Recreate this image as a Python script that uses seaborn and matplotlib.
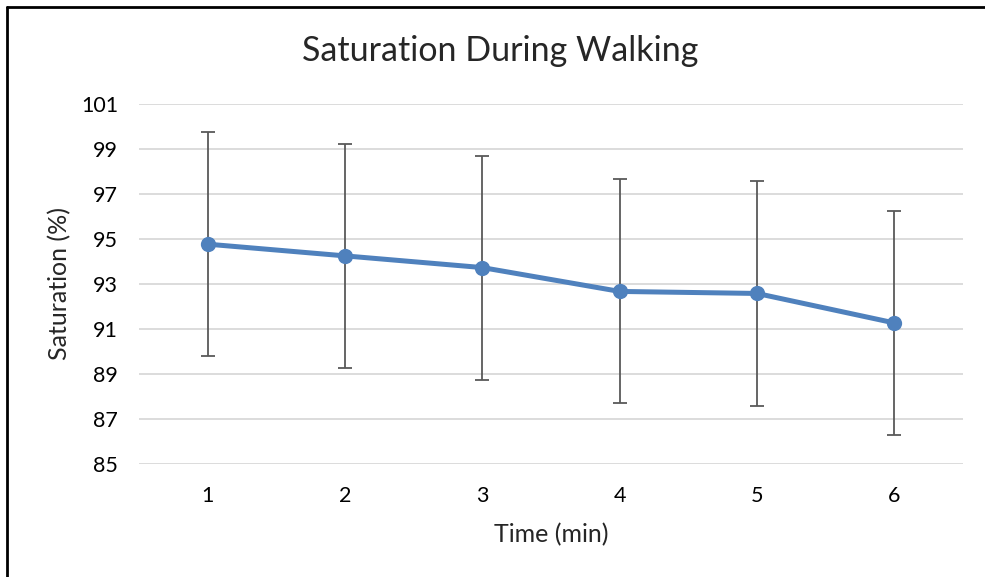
import seaborn as sns
import matplotlib.pyplot as plt
import pandas as pd
from matplotlib.lines import Line2D

time_min = [1, 2, 3, 4, 5, 6]
saturation = [94.77, 94.25, 93.73, 92.67, 92.58, 91.27]
sat_sd = [4.98, 4.98, 4.98, 4.98, 4.98, 4.98]
y_ticks = [85, 87, 89, 91, 93, 95, 97, 99, 101]

def main():
    sns.set_style("white")
    plt.rcParams['font.family'] = ['Lato', 'DejaVu Sans']

    data = pd.DataFrame({'time': time_min, 'sat': saturation, 'sd': sat_sd})

    fig = plt.figure(figsize=(9.85, 5.77), dpi=100)
    ax = fig.add_axes([139 / 985, 1 - 464 / 577, 824 / 985, 360 / 577])

    ax.errorbar(data['time'], data['sat'], yerr=data['sd'], fmt='none',
                ecolor='#595959', elinewidth=1.3, capsize=5, capthick=1.3, zorder=2)
    sns.lineplot(data=data, x='time', y='sat', ax=ax, color='#4F81BD',
                 linewidth=3.6, marker='o', markersize=11, markeredgewidth=0, zorder=3)

    ax.set_xlim(0.5, 6.5)
    ax.set_ylim(85, 101)
    ax.set_xticks(time_min)
    ax.set_yticks(y_ticks)
    ax.yaxis.grid(True, color='#D9D9D9', linewidth=1.3)
    ax.set_axisbelow(True)
    for s in ax.spines.values():
        s.set_visible(False)
    ax.tick_params(axis='both', length=0, labelsize=15.5, colors='black')
    ax.tick_params(axis='x', pad=16)
    ax.tick_params(axis='y', pad=15)

    ax.set_xlabel('Time (min)', fontsize=18, labelpad=12)
    ax.set_ylabel('Saturation (%)', fontsize=18, labelpad=7)

    fig.text(500 / 985, 1 - 51 / 577, 'Saturation During Walking', fontsize=24.5,
             ha='center', va='center')

    # outer chart frame (top and left edges only visible in the crop)
    fig.add_artist(Line2D([7 / 985, 1], [1 - 7 / 577, 1 - 7 / 577], color='black', linewidth=2))
    fig.add_artist(Line2D([7 / 985, 7 / 985], [0, 1 - 7 / 577], color='black', linewidth=2))

    fig.savefig('out.png', dpi=100)

if __name__ == '__main__':
    main()
